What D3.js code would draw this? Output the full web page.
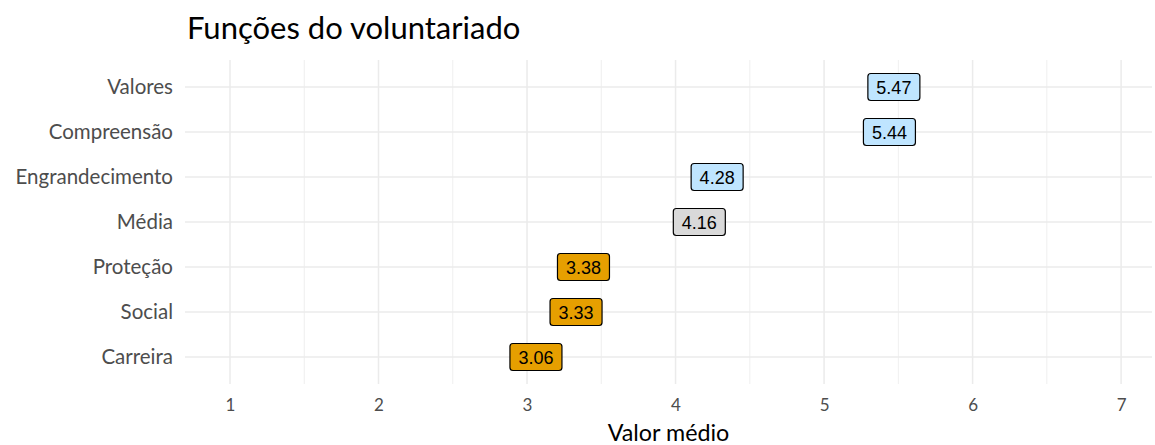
<!DOCTYPE html>
<html>
<head>
<meta charset="utf-8">
<script src="https://cdn.jsdelivr.net/npm/d3@7"></script>
<style>
  html, body { margin: 0; padding: 0; background: #fff; }
  svg { display: block; }
</style>
</head>
<body>
<svg id="chart" width="1155" height="445"></svg>
<script>
// Volunteer function means, top to bottom
const categories = ["Valores", "Compreensão", "Engrandecimento", "Média", "Proteção", "Social", "Carreira"];
const values = [5.47, 5.44, 4.28, 4.16, 3.38, 3.33, 3.06];
const groups = ["acima", "acima", "acima", "media", "abaixo", "abaixo", "abaixo"];
const xTicks = [1, 2, 3, 4, 5, 6, 7];

const fills = { acima: "#BFE5FF", media: "#D9D9D9", abaixo: "#E69F00" };
const uiFont = "Lato, 'Open Sans', sans-serif";
const labelFont = "'Liberation Sans', Arial, sans-serif";

const svg = d3.select("#chart");
const panel = { left: 185, right: 1152, top: 60, bottom: 384 };

const x = d3.scaleLinear().domain([0.697, 7.208]).range([panel.left, panel.right]);
const y = d3.scalePoint().domain(categories).range([panel.top, panel.bottom]).padding(0.6);

// minor and major grid
const minor = d3.range(1.5, 7.5, 1).filter(v => v < 7.2);
svg.append("g").selectAll("line").data(minor).join("line")
  .attr("x1", d => x(d)).attr("x2", d => x(d))
  .attr("y1", panel.top).attr("y2", panel.bottom)
  .attr("stroke", "#EBEBEB").attr("stroke-width", 0.8);
svg.append("g").selectAll("line").data(xTicks).join("line")
  .attr("x1", d => x(d)).attr("x2", d => x(d))
  .attr("y1", panel.top).attr("y2", panel.bottom)
  .attr("stroke", "#EBEBEB").attr("stroke-width", 1.5);
svg.append("g").selectAll("line").data(categories).join("line")
  .attr("x1", panel.left).attr("x2", panel.right)
  .attr("y1", d => y(d)).attr("y2", d => y(d))
  .attr("stroke", "#EBEBEB").attr("stroke-width", 1.5);

// x axis
const xAxis = svg.append("g")
  .attr("transform", `translate(0,${panel.bottom})`)
  .call(d3.axisBottom(x).tickValues(xTicks).tickFormat(d3.format("d")).tickSize(0).tickPadding(15));
xAxis.select(".domain").remove();
xAxis.selectAll("text").attr("font-family", uiFont).attr("font-size", 17).attr("fill", "#4D4D4D");

// y axis
const yAxis = svg.append("g")
  .attr("transform", `translate(${panel.left},0)`)
  .call(d3.axisLeft(y).tickSize(0).tickPadding(12));
yAxis.select(".domain").remove();
yAxis.selectAll("text").attr("font-family", uiFont).attr("font-size", 20.5).attr("fill", "#4D4D4D");

// value labels
const data = categories.map((c, i) => ({ cat: c, value: values[i], group: groups[i] }));
const lbl = svg.append("g").selectAll("g").data(data).join("g")
  .attr("transform", d => `translate(${x(d.value)},${y(d.cat)})`);
lbl.append("rect")
  .attr("x", -26).attr("y", -13.5).attr("width", 52).attr("height", 27)
  .attr("rx", 3).attr("ry", 3)
  .attr("fill", d => fills[d.group])
  .attr("stroke", "#000").attr("stroke-width", 1.2);
lbl.append("text")
  .attr("text-anchor", "middle").attr("dy", "0.36em").attr("y", 1)
  .attr("font-family", labelFont).attr("font-size", 18).attr("fill", "#000")
  .text(d => d.value.toFixed(2));

// titles
svg.append("text").attr("x", 187).attr("y", 39)
  .attr("font-family", uiFont).attr("font-size", 31).attr("fill", "#000")
  .text("Funções do voluntariado");
svg.append("text").attr("x", (panel.left + panel.right) / 2).attr("y", 441)
  .attr("text-anchor", "middle")
  .attr("font-family", uiFont).attr("font-size", 23.3).attr("fill", "#000")
  .text("Valor médio");
</script>
</body>
</html>
